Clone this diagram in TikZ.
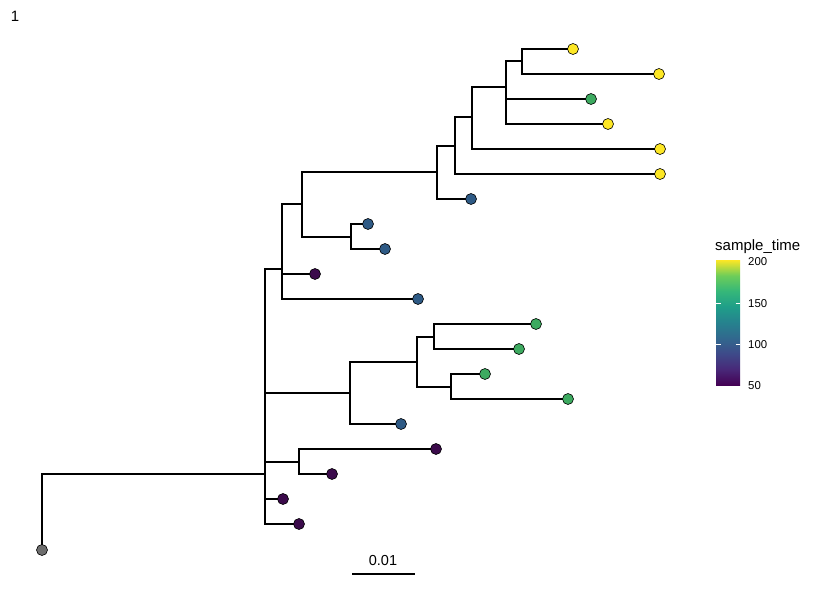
\documentclass[tikz,border=0pt]{standalone}
\usepackage{fontspec}
\setmainfont{Liberation Sans}
\usepackage{xcolor}
\usepackage{tikz}

% viridis colour bar, visible part is 25bp..75bp
\definecolor{vir0}{HTML}{440154}
\definecolor{vir1}{HTML}{482878}
\definecolor{vir2}{HTML}{3E4A89}
\definecolor{vir3}{HTML}{31688E}
\definecolor{vir4}{HTML}{26828E}
\definecolor{vir5}{HTML}{1F9E89}
\definecolor{vir6}{HTML}{35B779}
\definecolor{vir7}{HTML}{6DCD59}
\definecolor{vir8}{HTML}{FDE725}
\pgfdeclareverticalshading{viridis}{100bp}{color(0bp)=(vir0); color(25bp)=(vir0);
  color(31.25bp)=(vir1); color(37.5bp)=(vir2); color(43.75bp)=(vir3);
  color(50bp)=(vir4); color(56.25bp)=(vir5); color(62.5bp)=(vir6);
  color(68.75bp)=(vir7); color(75bp)=(vir8); color(100bp)=(vir8)}

\begin{document}
\begin{tikzpicture}[x=1pt,y=-1pt,
  edge/.style={line width=1.2pt,line cap=rect},
  tip/.style={circle,draw=black,line width=0.6pt,inner sep=0pt,minimum size=11pt}]
% Define tip colours
\definecolor{tipyel}{HTML}{FDE725}
\definecolor{tipgrn}{HTML}{3DAA60}
\definecolor{tipblu}{HTML}{2E5A85}
\definecolor{tippur}{HTML}{3B0A4B}
\definecolor{tiproot}{HTML}{6E6E6E}

\useasboundingbox (0,0) rectangle (822,602);

% Internal nodes
\coordinate (nS) at (265,474);
\coordinate (nH) at (282,269);
\coordinate (nF) at (302,204);
\coordinate (nG) at (351,237);
\coordinate (nE) at (437,172);
\coordinate (nD) at (455,146);
\coordinate (nC) at (472,117);
\coordinate (nB) at (506,87);
\coordinate (nA) at (522,61);
\coordinate (nL) at (350,393);
\coordinate (nK) at (417,362);
\coordinate (nI) at (434,337);
\coordinate (nJ) at (451,387);
\coordinate (nM) at (299,462);

% Tips
\node[tip,fill=tiproot] (root) at (42,550) {};
\node[tip,fill=tipyel] (t1) at (573,49) {};
\node[tip,fill=tipyel] (t2) at (659,74) {};
\node[tip,fill=tipgrn] (t3) at (591,99) {};
\node[tip,fill=tipyel] (t4) at (608,124) {};
\node[tip,fill=tipyel] (t5) at (660,149) {};
\node[tip,fill=tipyel] (t6) at (660,174) {};
\node[tip,fill=tipblu] (t7) at (471,199) {};
\node[tip,fill=tipblu] (t8) at (368,224) {};
\node[tip,fill=tipblu] (t9) at (385,249) {};
\node[tip,fill=tippur] (t10) at (315,274) {};
\node[tip,fill=tipblu] (t11) at (418,299) {};
\node[tip,fill=tipgrn] (t12) at (536,324) {};
\node[tip,fill=tipgrn] (t13) at (519,349) {};
\node[tip,fill=tipgrn] (t14) at (485,374) {};
\node[tip,fill=tipgrn] (t15) at (568,399) {};
\node[tip,fill=tipblu] (t16) at (401,424) {};
\node[tip,fill=tippur] (t17) at (436,449) {};
\node[tip,fill=tippur] (t18) at (332,474) {};
\node[tip,fill=tippur] (t19) at (283,499) {};
\node[tip,fill=tippur] (t20) at (299,524) {};

% Draw branches
\draw[edge] (root) |- (nS);
\draw[edge] (nS) |- (nH);
\draw[edge] (nS) |- (nL);
\draw[edge] (nS) |- (nM);
\draw[edge] (nS) |- (t19);
\draw[edge] (nS) |- (t20);
\draw[edge] (nH) |- (nF);
\draw[edge] (nH) |- (t10);
\draw[edge] (nH) |- (t11);
\draw[edge] (nF) |- (nE);
\draw[edge] (nF) |- (nG);
\draw[edge] (nG) |- (t8);
\draw[edge] (nG) |- (t9);
\draw[edge] (nE) |- (nD);
\draw[edge] (nE) |- (t7);
\draw[edge] (nD) |- (nC);
\draw[edge] (nD) |- (t6);
\draw[edge] (nC) |- (nB);
\draw[edge] (nC) |- (t5);
\draw[edge] (nB) |- (nA);
\draw[edge] (nB) |- (t3);
\draw[edge] (nB) |- (t4);
\draw[edge] (nA) |- (t1);
\draw[edge] (nA) |- (t2);
\draw[edge] (nL) |- (nK);
\draw[edge] (nL) |- (t16);
\draw[edge] (nK) |- (nI);
\draw[edge] (nK) |- (nJ);
\draw[edge] (nI) |- (t12);
\draw[edge] (nI) |- (t13);
\draw[edge] (nJ) |- (t14);
\draw[edge] (nJ) |- (t15);
\draw[edge] (nM) |- (t17);
\draw[edge] (nM) |- (t18);

% Panel tag
\node[font=\fontsize{15}{17}\selectfont] (tag) at (15,16) {1};

% Scale bar
\coordinate (sbl) at (352,574);
\coordinate (sbr) at (415,574);
\draw[line width=1.2pt] (sbl) -- (sbr);
\node[font=\fontsize{14.5}{16}\selectfont] (sblab) at (383,560.5) {0.01};

% Legend
\node[anchor=west,font=\fontsize{15}{17}\selectfont,inner sep=0pt] (legtitle) at (715,246.5) {sample\_time};
\shade[shading=viridis] (716,260) rectangle (740,385);
\draw[white,line width=0.6pt] (716,303) -- (720.5,303) (735.5,303) -- (740,303);
\draw[white,line width=0.6pt] (716,344) -- (720.5,344) (735.5,344) -- (740,344);
\node[anchor=west,font=\fontsize{11.4}{13}\selectfont,inner sep=0pt] (l200) at (748,261.8) {200};
\node[anchor=west,font=\fontsize{11.4}{13}\selectfont,inner sep=0pt] (l150) at (748,303.3) {150};
\node[anchor=west,font=\fontsize{11.4}{13}\selectfont,inner sep=0pt] (l100) at (748,344.5) {100};
\node[anchor=west,font=\fontsize{11.4}{13}\selectfont,inner sep=0pt] (l50) at (748,385.3) {50};
\end{tikzpicture}
\end{document}
